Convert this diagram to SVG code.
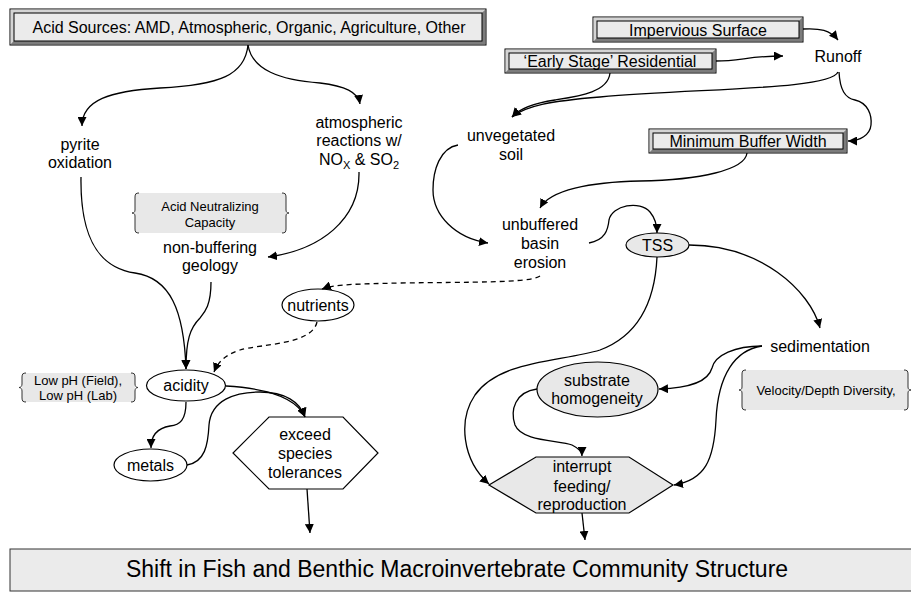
<svg xmlns="http://www.w3.org/2000/svg" width="911" height="599" viewBox="0 0 911 599">
<style>
text{font-family:"Liberation Sans",Arial,sans-serif;fill:#000}
.lbl{font-size:16px;text-anchor:middle}
.sm{font-size:13px;text-anchor:middle}
.c{fill:none;stroke:#000;stroke-width:1.3}
.d{stroke-dasharray:5,4}
.el{stroke:#000;stroke-width:1.2}
.br{fill:none;stroke:#333;stroke-width:1}
.bf{fill:#e8e8e8}
.bo{fill:#9a9a9a;stroke:#000;stroke-width:1}
.bt{fill:#d4d4d4}
.bb{fill:#7c7c7c}
.bi{fill:#ebebeb;stroke:#000;stroke-width:1}
</style>
<defs>
<marker id="ah" viewBox="0 0 10 10" refX="10" refY="5" markerWidth="9" markerHeight="9" markerUnits="userSpaceOnUse" orient="auto">
<path d="M0,0 L10,5 L0,10 z" fill="#000"/>
</marker>
</defs>

<g id="acid-sources">
<rect class="bo" x="10" y="9" width="476" height="36"/>
<polygon class="bt" points="10.5,9.5 485.5,9.5 482,13 14,13 14,41 10.5,44.5"/>
<polygon class="bb" points="485.5,9.5 485.5,44.5 10.5,44.5 14,41 482,41 482,13"/>
<rect class="bi" x="14" y="13" width="468" height="28"/>
<text class="lbl" x="249" y="33">Acid Sources: AMD, Atmospheric, Organic, Agriculture, Other</text>
</g>

<g id="impervious">
<rect class="bo" x="593" y="17" width="210" height="25"/>
<polygon class="bt" points="593.5,17.5 802.5,17.5 799,21 597,21 597,38 593.5,41.5"/>
<polygon class="bb" points="802.5,17.5 802.5,41.5 593.5,41.5 597,38 799,38 799,21"/>
<rect class="bi" x="597" y="21" width="202" height="17"/>
<text class="lbl" x="698" y="35.5">Impervious Surface</text>
</g>

<g id="residential">
<rect class="bo" x="505" y="49" width="211" height="24"/>
<polygon class="bt" points="505.5,49.5 715.5,49.5 712,53 509,53 509,69 505.5,72.5"/>
<polygon class="bb" points="715.5,49.5 715.5,72.5 505.5,72.5 509,69 712,69 712,53"/>
<rect class="bi" x="509" y="53" width="203" height="16"/>
<text class="lbl" x="610" y="67">‘Early Stage’ Residential</text>
</g>

<g id="min-buffer">
<rect class="bo" x="649" y="129" width="198" height="24"/>
<polygon class="bt" points="649.5,129.5 846.5,129.5 843,133 653,133 653,149 649.5,152.5"/>
<polygon class="bb" points="846.5,129.5 846.5,152.5 649.5,152.5 653,149 843,149 843,133"/>
<rect class="bi" x="653" y="133" width="190" height="16"/>
<text class="lbl" x="748" y="147">Minimum Buffer Width</text>
</g>

<g id="runoff"><text class="lbl" x="838" y="62">Runoff</text></g>
<g id="pyrite"><text class="lbl" x="80"><tspan x="80" y="150">pyrite</tspan><tspan x="80" y="168">oxidation</tspan></text></g>
<g id="atmospheric"><text class="lbl"><tspan x="359" y="128">atmospheric</tspan><tspan x="359" y="146">reactions w/</tspan><tspan x="359" y="165">NO<tspan font-size="11" dy="4">X</tspan><tspan dy="-4"> &amp; SO</tspan><tspan font-size="11" dy="4">2</tspan></tspan></text></g>

<g id="anc">
<rect class="bf" x="135" y="193" width="151" height="40"/>
<path class="br" d="M139,193 C136,193 135,194 135,197 L135,210 C135,212 134,213 132,213 C134,213 135,214 135,216 L135,229 C135,232 136,233 139,233"/>
<path class="br" d="M282,193 C285,193 286,194 286,197 L286,210 C286,212 287,213 289,213 C287,213 286,214 286,216 L286,229 C286,232 285,233 282,233"/>
<text class="sm"><tspan x="210" y="211">Acid Neutralizing</tspan><tspan x="210" y="227">Capacity</tspan></text>
</g>

<g id="non-buffering"><text class="lbl"><tspan x="210" y="253">non-buffering</tspan><tspan x="210" y="271">geology</tspan></text></g>

<g id="unvegetated"><text class="lbl"><tspan x="511" y="141">unvegetated</tspan><tspan x="511" y="160">soil</tspan></text></g>
<g id="unbuffered"><text class="lbl"><tspan x="540" y="230">unbuffered</tspan><tspan x="540" y="249">basin</tspan><tspan x="540" y="268">erosion</tspan></text></g>

<g id="tss">
<ellipse class="el bf" cx="657.5" cy="245" rx="31.5" ry="12"/>
<text class="lbl" x="657.5" y="251">TSS</text>
</g>

<g id="nutrients">
<ellipse class="el" fill="#fff" cx="318" cy="305" rx="36" ry="16"/>
<text class="lbl" x="318" y="310.5">nutrients</text>
</g>

<g id="sedimentation"><text class="lbl" x="820" y="352">sedimentation</text></g>

<g id="velocity">
<rect class="bf" x="742" y="370" width="166" height="40"/>
<path class="br" d="M746,370 C743,370 742,371 742,374 L742,387 C742,389 741,390 739,390 C741,390 742,391 742,393 L742,406 C742,409 743,410 746,410"/>
<path class="br" d="M904,370 C907,370 908,371 908,374 L908,387 C908,389 909,390 911,390 C909,390 908,391 908,393 L908,406 C908,409 907,410 904,410"/>
<text class="sm" x="826" y="395">Velocity/Depth Diversity,</text>
</g>

<g id="low-ph">
<rect class="bf" x="22" y="373" width="113" height="29"/>
<path class="br" d="M26,373 C23,373 22,374 22,377 L22,384 C22,386 21,387.5 19,387.5 C21,387.5 22,389 22,391 L22,398 C22,401 23,402 26,402"/>
<path class="br" d="M131,373 C134,373 135,374 135,377 L135,384 C135,386 136,387.5 138,387.5 C136,387.5 135,389 135,391 L135,398 C135,401 134,402 131,402"/>
<text class="sm"><tspan x="78" y="385">Low pH (Field),</tspan><tspan x="78" y="400">Low pH (Lab)</tspan></text>
</g>

<g id="acidity">
<ellipse class="el" fill="#fff" cx="186" cy="385.5" rx="39.5" ry="15.5"/>
<text class="lbl" x="186" y="391">acidity</text>
</g>

<g id="substrate">
<ellipse class="el bf" cx="597.5" cy="389.5" rx="60.5" ry="27.5"/>
<text class="lbl"><tspan x="597" y="386">substrate</tspan><tspan x="597" y="404">homogeneity</tspan></text>
</g>

<g id="metals">
<ellipse class="el" fill="#fff" cx="150.5" cy="465" rx="36.5" ry="16"/>
<text class="lbl" x="150.5" y="471">metals</text>
</g>

<g id="exceed">
<polygon class="el" fill="#fff" points="269,417 343,417 378,453 343,489 269,489 233,453"/>
<text class="lbl"><tspan x="305" y="440">exceed</tspan><tspan x="305" y="459">species</tspan><tspan x="305" y="478">tolerances</tspan></text>
</g>

<g id="interrupt">
<polygon class="el bf" points="536,457 629,457 673,485 629,513 536,513 489,485"/>
<text class="lbl"><tspan x="582" y="472">interrupt</tspan><tspan x="582" y="492">feeding/</tspan><tspan x="582" y="510">reproduction</tspan></text>
</g>

<g id="shift">
<rect x="10" y="549" width="905" height="42" fill="#ebebeb" stroke="#333" stroke-width="1"/>
<text x="457" y="577" font-size="23" text-anchor="middle">Shift in Fish and Benthic Macroinvertebrate Community Structure</text>
</g>

<g id="connectors">
<path class="c" marker-end="url(#ah)" d="M248,45 C245,75 220,85 160,88 C110,91 82,100 82,126"/>
<path class="c" marker-end="url(#ah)" d="M248,45 C252,70 280,80 320,83 C345,86 358,92 360,104"/>
<path class="c" marker-end="url(#ah)" d="M359,172 C360,220 320,250 268,257"/>
<path class="c" marker-end="url(#ah)" d="M81,177 C80,240 100,268 135,273 C170,278 184,310 186,369"/>
<path class="c" marker-end="url(#ah)" d="M211,282 C211,305 205,312 200,318 C190,328 186,340 186,369"/>
<path class="c d" marker-end="url(#ah)" d="M540,276 C530,283 470,282 400,283 C360,284 335,284 322,289"/>
<path class="c d" marker-end="url(#ah)" d="M317,322 C312,345 260,344 240,350 C225,355 218,362 214,372"/>
<path class="c" marker-end="url(#ah)" d="M186,402 C186,420 180,425 170,426 C158,428 151,435 151,448"/>
<path class="c" marker-end="url(#ah)" d="M226,386 C260,388 295,395 305,417"/>
<path class="c" marker-end="url(#ah)" d="M187,465 C205,462 208,445 209,425 C211,400 235,392 260,392 C285,392 300,402 305,417"/>
<path class="c" marker-end="url(#ah)" d="M307,489 L310,533"/>
<path class="c" marker-end="url(#ah)" d="M803,29 C820,28 830,30 838,40"/>
<path class="c" marker-end="url(#ah)" d="M716,61 C740,61 750,56 783,56"/>
<path class="c" marker-end="url(#ah)" d="M839,72 C840,90 845,98 855,100 C868,103 872,115 871,125 C870,135 860,141 848,141"/>
<path class="c" marker-end="url(#ah)" d="M838,72 C830,90 700,88 600,97 C550,101 525,106 512,117"/>
<path class="c" marker-end="url(#ah)" d="M610,73 C608,92 580,96 555,100 C535,103 520,108 512,117"/>
<path class="c" marker-end="url(#ah)" d="M458,145 C440,148 433,170 433,190 C433,215 455,238 488,243"/>
<path class="c" marker-end="url(#ah)" d="M747,153 C745,170 700,180 640,181 C590,182 550,190 540,208"/>
<path class="c" marker-end="url(#ah)" d="M589,243 C605,240 608,230 609,220 C612,205 640,200 650,212 C655,218 657,225 657,233"/>
<path class="c" marker-end="url(#ah)" d="M689,245 C760,245 810,290 820,328"/>
<path class="c" marker-end="url(#ah)" d="M657,257 C655,300 640,335 600,350 C560,362 500,360 475,395 C458,420 462,460 489,484"/>
<path class="c" marker-end="url(#ah)" d="M762,346 C735,346 715,355 712,368 C708,382 690,388 659,389"/>
<path class="c" marker-end="url(#ah)" d="M762,346 C735,350 718,375 716,420 C714,460 705,480 674,485"/>
<path class="c" marker-end="url(#ah)" d="M537,389 C515,392 510,410 515,425 C522,442 560,440 572,445 C580,449 582,452 582,456"/>
<path class="c" marker-end="url(#ah)" d="M582,513 L585,540"/>
</g>
</svg>
